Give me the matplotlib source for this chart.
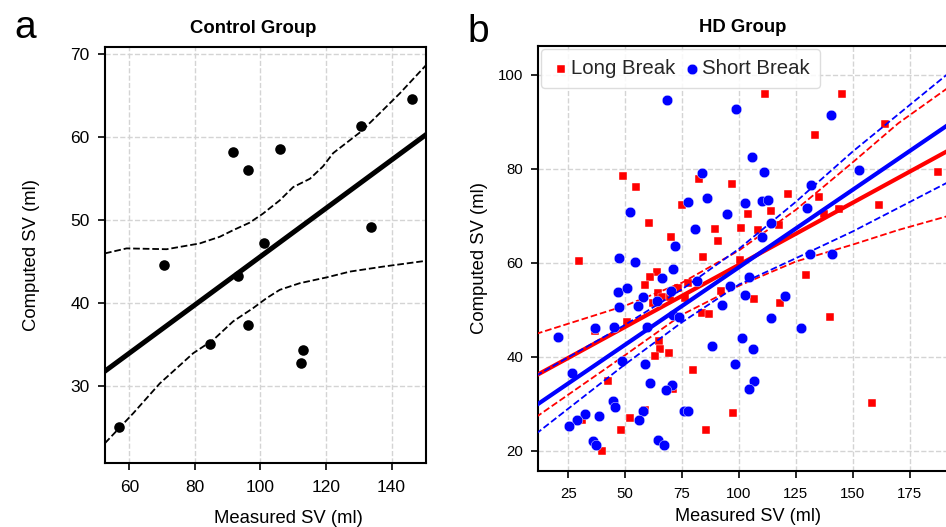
import numpy as np
import matplotlib
matplotlib.use('Agg')
import matplotlib.pyplot as plt

plt.rcParams['font.family'] = ['Liberation Sans', 'DejaVu Sans']

# ---- panel a: control group ----
ctrl_measured = [56.85, 70.7, 84.7, 91.6, 93.1, 96.3, 96.3, 101.2, 106.1, 113.0, 112.5, 130.7, 133.6, 146.1]
ctrl_computed = [25.1, 44.6, 35.1, 58.2, 43.3, 56.1, 37.4, 47.3, 58.6, 34.35, 32.8, 61.4, 49.2, 64.6]

# confidence band
ctrl_upper_x = [52.6, 59.2, 71.4, 81.5, 87.6, 91.7, 96.7, 100.8, 105.9, 110.0, 115.1, 119.1, 122.2, 130.7, 137.4, 142.5, 150.5]
ctrl_upper_y = [46.0, 46.6, 46.5, 47.2, 48.0, 48.8, 49.7, 50.8, 52.4, 54.0, 55.0, 56.5, 58.1, 60.7, 63.3, 65.3, 68.7]
ctrl_lower_x = [52.6, 61.2, 69.3, 79.5, 85.6, 91.7, 97.8, 101.9, 105.9, 112.0, 120.2, 127.3, 137.4, 150.5]
ctrl_lower_y = [23.1, 26.7, 30.3, 33.95, 35.55, 37.8, 39.4, 40.6, 41.6, 42.4, 43.1, 43.8, 44.4, 45.1]

# ---- panel b: HD group ----
long_measured = [111.5, 145.2, 133.5, 164.1, 49.2, 54.7, 82.5, 97.0, 74.9, 60.6, 121.6, 135.2, 114.2, 104.1,
                 117.4, 101.1, 108.2, 89.6, 70.1, 90.9, 144.0, 161.6, 187.5, 137.2, 84.3, 100.5, 29.8, 64.1,
                 61.0, 58.8, 77.7, 73.2, 64.5, 66.0, 69.65, 62.3, 76.4, 92.2, 106.7, 118.1, 129.5, 83.9, 86.9,
                 51.0, 36.9, 65.0, 65.4, 69.4, 63.2, 139.9, 79.9, 42.6, 70.8, 58.8, 31.0, 52.2, 97.3, 158.4,
                 48.1, 85.6, 40.0]
long_computed = [95.9, 95.9, 87.25, 89.5, 78.5, 76.2, 77.8, 76.8, 72.4, 68.5, 74.6, 74.1, 71.0, 70.4,
                 68.1, 67.4, 66.9, 67.3, 65.6, 64.7, 71.5, 72.4, 79.3, 70.4, 61.3, 60.7, 60.5, 58.1,
                 57.1, 55.4, 55.7, 54.6, 53.5, 52.8, 52.8, 51.4, 52.5, 54.0, 52.4, 51.5, 57.4, 49.3, 49.15,
                 47.4, 45.5, 43.5, 41.7, 40.9, 40.1, 48.6, 37.3, 34.8, 33.2, 28.8, 26.5, 27.05, 28.1, 30.2,
                 24.4, 24.4, 20.0]

short_measured = [68.2, 98.8, 140.4, 105.5, 83.7, 110.9, 152.8, 86.05, 77.6, 102.6, 109.9, 112.8, 131.7, 52.2,
                  94.7, 130.0, 80.8, 114.2, 110.1, 71.85, 47.25, 54.4, 71.1, 66.3, 81.5, 104.5, 131.15, 140.8,
                  96.2, 46.7, 50.8, 57.65, 63.8, 70.2, 102.7, 120.3, 47.1, 55.75, 92.5, 71.1, 73.75, 36.9,
                  45.05, 59.55, 20.3, 114.0, 127.05, 101.4, 88.0, 106.0, 48.6, 26.5, 58.5, 98.1, 61.0, 70.7,
                  67.9, 106.7, 104.5, 44.8, 45.5, 32.2, 38.6, 28.7, 57.8, 56.2, 75.65, 77.7, 25.4, 36.0,
                  37.15, 64.2, 66.9]
short_computed = [94.6, 92.7, 91.5, 82.6, 79.1, 79.25, 79.75, 73.9, 72.9, 72.7, 73.2, 73.4, 76.6, 70.9,
                  70.3, 71.6, 67.2, 68.4, 65.6, 63.5, 61.05, 60.1, 58.8, 56.8, 56.2, 56.9, 61.9, 61.9,
                  55.1, 53.75, 54.6, 52.8, 51.9, 54.1, 53.2, 53.0, 50.6, 50.85, 51.1, 49.0, 48.6, 46.2,
                  46.3, 46.3, 44.2, 48.2, 46.1, 44.0, 42.35, 41.6, 39.1, 36.5, 38.6, 38.5, 34.4, 34.1,
                  32.9, 34.8, 33.1, 30.6, 29.3, 27.9, 27.4, 26.6, 28.5, 26.6, 28.5, 28.5, 25.3, 22.1,
                  21.2, 22.4, 21.3]

# regression lines and bands
long_fit_x = [10.8, 192.0]
long_fit_y = [36.05, 83.9]
long_band_x = [10.8, 50, 75, 100, 125, 150, 170, 192]
long_upper = [44.9, 50.9, 55.8, 62.65, 71.3, 81.4, 89.7, 97.3]
long_lower = [27.2, 40.4, 49.0, 55.15, 60.3, 63.9, 67.0, 70.0]

short_fit_x = [10.8, 192.0]
short_fit_y = [29.7, 89.4]
short_band_x = [10.8, 50, 75, 100, 125, 150, 192]
short_upper = [36.0, 46.85, 54.4, 63.0, 73.0, 83.7, 100.3]
short_lower = [23.65, 38.45, 47.4, 55.4, 61.0, 66.7, 77.2]

RED = '#ff0000'
BLUE = '#0000ff'

fig = plt.figure(figsize=(9.46, 5.27), dpi=100)

def style_axes(ax, tick_size, xpad, ypad):
  ax.grid(True, color='#d4d4d4', linestyle='--', linewidth=1.0)
  ax.set_axisbelow(True)
  for s in ax.spines.values():
    s.set_linewidth(1.5)
    s.set_color('black')
  ax.tick_params(direction='out', length=5, width=1.2, labelsize=tick_size)
  ax.tick_params(axis='x', pad=xpad)
  ax.tick_params(axis='y', pad=ypad)

# ---- a ----
ax1 = fig.add_axes([0.1110, 0.1214, 0.3393, 0.7894])
style_axes(ax1, 12.5, 7, 6)
ax1.scatter(ctrl_measured, ctrl_computed, s=58, color='black', linewidth=0, zorder=3)
slope, icpt = np.polyfit(ctrl_measured, ctrl_computed, 1)
xx = np.array([52.6, 150.5])
ax1.plot(xx, icpt + slope * xx, color='black', lw=3.6, zorder=4)
ax1.plot(ctrl_upper_x, ctrl_upper_y, color='black', lw=1.3, ls='--', zorder=4)
ax1.plot(ctrl_lower_x, ctrl_lower_y, color='black', lw=1.3, ls='--', zorder=4)
ax1.set_xlim(52.6, 150.5)
ax1.set_ylim(20.7, 70.9)
ax1.set_xticks([60, 80, 100, 120, 140])
ax1.set_yticks([30, 40, 50, 60, 70])
ax1.set_xlabel('Measured SV (ml)', fontsize=13.3)
ax1.xaxis.set_label_coords(0.570, -0.112)
ax1.set_ylabel('Computed SV (ml)', fontsize=13.3)
ax1.yaxis.set_label_coords(-0.2025, 0.5)
ax1.set_title('Control Group', fontsize=13.3, fontweight='bold', pad=10, x=0.461)

# ---- b ----
ax2 = fig.add_axes([0.5684, 0.1063, 0.4340, 0.8070])
style_axes(ax2, 10.8, 6.5, 5.5)
ax2.spines['right'].set_visible(False)
ax2.scatter(long_measured, long_computed, s=28, marker='s', color=RED, edgecolor='white', linewidth=0.3,
            zorder=3, label='Long Break')
ax2.plot(long_fit_x, long_fit_y, color=RED, lw=3, zorder=4)
ax2.plot(long_band_x, long_upper, color=RED, lw=1.3, ls='--', zorder=4)
ax2.plot(long_band_x, long_lower, color=RED, lw=1.3, ls='--', zorder=4)
ax2.scatter(short_measured, short_computed, s=58, marker='o', color=BLUE, edgecolor='white', linewidth=0.3,
            zorder=5, label='Short Break')
ax2.plot(short_fit_x, short_fit_y, color=BLUE, lw=3, zorder=6)
ax2.plot(short_band_x, short_upper, color=BLUE, lw=1.3, ls='--', zorder=6)
ax2.plot(short_band_x, short_lower, color=BLUE, lw=1.3, ls='--', zorder=6)
ax2.set_xlim(11.56, 191.96)
ax2.set_ylim(15.75, 106.2)
ax2.set_xticks([25, 50, 75, 100, 125, 150, 175])
ax2.set_yticks([20, 40, 60, 80, 100])
ax2.set_xlabel('Measured SV (ml)', fontsize=13.1)
ax2.xaxis.set_label_coords(0.513, -0.088)
ax2.set_ylabel('Computed SV (ml)', fontsize=13.3)
ax2.yaxis.set_label_coords(-0.120, 0.5)
ax2.set_title('HD Group', fontsize=13.3, fontweight='bold', pad=10)
leg = ax2.legend(loc='upper left', ncol=2, fontsize=14.7, handlelength=1.0, handletextpad=0.0,
                 columnspacing=0.3, borderaxespad=0.15, borderpad=0.5, frameon=True, fancybox=True)
leg.get_frame().set_edgecolor('#d8d8d8')
leg.get_frame().set_alpha(0.85)
for t in leg.get_texts():
  t.set_color('#262626')
leg.set_zorder(10)

fig.text(0.0148, 0.928, 'a', fontsize=28, va='baseline')
fig.text(0.4937, 0.921, 'b', fontsize=28, va='baseline')

plt.savefig('out.png', dpi=100)
